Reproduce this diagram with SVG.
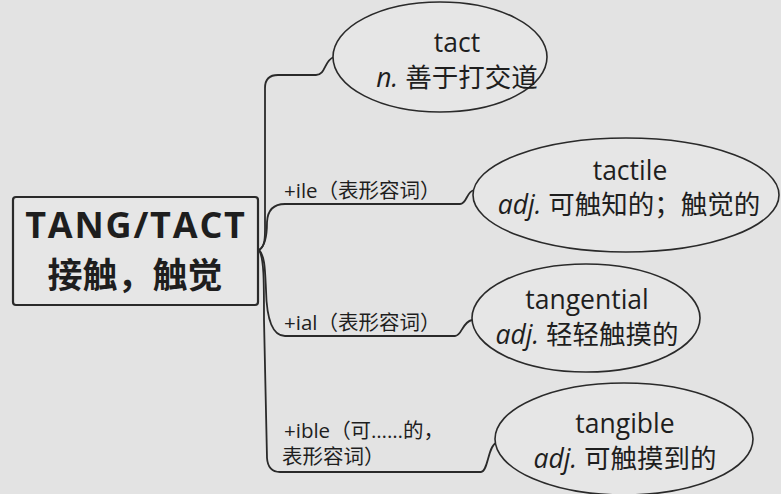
<svg xmlns="http://www.w3.org/2000/svg" width="781" height="494" viewBox="0 0 781 494">
<style>
.bg{fill:#e3e3e3}
.node{fill:#e6e6e6;stroke:#2a2a2a;stroke-width:1.6}
.con{fill:none;stroke:#2a2a2a;stroke-width:1.8}
text{font-family:"Open Sans","Noto Sans","Noto Sans CJK SC",sans-serif;fill:#1e1e1e}
.w{font-size:26.5px;text-anchor:middle}
.lbl{font-size:20.5px}
.c{font-size:35px;font-weight:bold;text-anchor:middle}
.i{font-style:italic}
</style>
<rect class="bg" width="781" height="494"/>
<g id="connectors">
<path class="con" d="M259,250 C266,246 265,235 265,220 L265,88 Q265,75 278,75 L316,75 C326,75 324,60 334,57"/>
<path class="con" d="M259,250 C266,246 267,232 267,222 Q268,204 285,204 L460,204 C467,204 466,192 474,190"/>
<path class="con" d="M259,250 C265,256 265,270 266,290 Q267,336 285,336 L455,336 C462,336 462,322 472,320"/>
<path class="con" d="M259,250 C264,258 264,280 264,320 L267,458 Q268,472 280,472 L481,472 C488,472 488,446 496,443"/>
</g>
<g id="center">
<rect x="13" y="197" width="245" height="108" rx="3" fill="#e6e6e6" stroke="#2a2a2a" stroke-width="2.2"/>
<text class="c" x="136" y="238" style="font-size:36px;letter-spacing:1.8px">TANG/TACT</text>
<text class="c" x="135" y="288">接触，触觉</text>
</g>
<g id="tact">
<ellipse class="node" cx="440" cy="57" rx="107" ry="55"/>
<text class="w" x="457" y="52">tact</text>
<text class="w" x="457" y="87"><tspan class="i">n.</tspan> 善于打交道</text>
</g>
<g id="tactile">
<ellipse class="node" cx="626" cy="195" rx="153" ry="57"/>
<text class="w" x="630" y="180">tactile</text>
<text class="w" x="629" y="214"><tspan class="i">adj.</tspan> 可触知的；触觉的</text>
</g>
<g id="tangential">
<ellipse class="node" cx="586" cy="318" rx="114" ry="54"/>
<text class="w" x="587" y="309">tangential</text>
<text class="w" x="587" y="344"><tspan class="i">adj.</tspan> 轻轻触摸的</text>
</g>
<g id="tangible">
<ellipse class="node" cx="624" cy="439" rx="129" ry="56"/>
<text class="w" x="625" y="433">tangible</text>
<text class="w" x="625" y="468"><tspan class="i">adj.</tspan> 可触摸到的</text>
</g>
<g id="labels">
<text class="lbl" x="284" y="198">+ile（表形容词）</text>
<text class="lbl" x="284" y="330">+ial（表形容词）</text>
<text class="lbl" x="284" y="438">+ible（可……的，</text>
<text class="lbl" x="282" y="464">表形容词）</text>
</g>
</svg>
